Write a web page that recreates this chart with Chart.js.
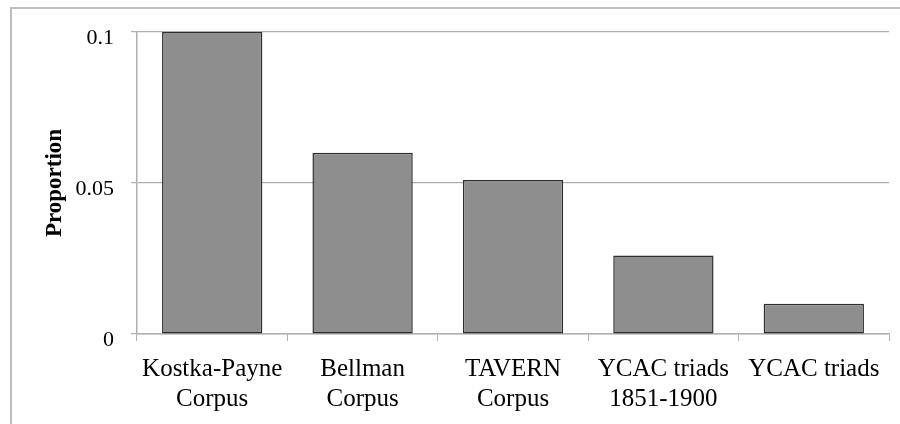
<!DOCTYPE html>
<html>
<head>
<meta charset="utf-8">
<script src="https://cdn.jsdelivr.net/npm/chart.js@4"></script>
<style>
  html, body { margin: 0; padding: 0; background: #fff; }
  #wrap { position: relative; width: 900px; height: 424px; overflow: hidden; }
  #frame { position: absolute; left: 10px; top: 7px; width: 960px; height: 500px;
           border-left: 2px solid #bdbdbd; border-top: 2px solid #bdbdbd; }
  canvas { position: absolute; left: 0; top: 0; }
</style>
</head>
<body>
<div id="wrap">
  <div id="frame"></div>
  <canvas id="chart" width="900" height="424"></canvas>
</div>
<script>
// chart data
const categories = [
  ["Kostka-Payne", "Corpus"],
  ["Bellman", "Corpus"],
  ["TAVERN", "Corpus"],
  ["YCAC triads", "1851-1900"],
  ["YCAC triads"]
];
const proportions = [0.1, 0.06, 0.051, 0.026, 0.01];
const yTicks = [0, 0.05, 0.1];
const yTitle = "Proportion";

const gridGray = "#b0b0b0";
const serif = "'Liberation Serif', 'Times New Roman', serif";

document.addEventListener("DOMContentLoaded", function () {
  const ctx = document.getElementById("chart").getContext("2d");
  new Chart(ctx, {
    type: "bar",
    data: {
      labels: categories,
      datasets: [
        {
          data: proportions,
          backgroundColor: "#8e8e8e",
          borderColor: "#2e2e2e",
          borderWidth: 1.5,
          borderSkipped: false,
          barPercentage: 0.667,
          categoryPercentage: 1,
        },
      ],
    },
    options: {
      responsive: false,
      animation: false,
      layout: { padding: { left: 0, top: 32, right: 11, bottom: 0 } },
      plugins: { legend: { display: false }, tooltip: { enabled: false } },
      scales: {
        x: {
          grid: {
            drawOnChartArea: false,
            drawTicks: true,
            tickLength: 7,
            color: gridGray,
          },
          border: { color: gridGray, width: 1.5 },
          ticks: {
            color: "#000",
            padding: 13,
            maxRotation: 0,
            autoSkip: false,
            font: { family: serif, size: 25, lineHeight: 1.2 },
          },
          afterFit: function (scale) { scale.height = 90; },
        },
        y: {
          min: 0,
          max: 0.1,
          afterBuildTicks: function (scale) {
            scale.ticks = yTicks.map((v) => ({ value: v }));
          },
          grid: { color: gridGray, lineWidth: 1.2, tickLength: 6 },
          border: { color: gridGray, width: 1.5 },
          ticks: {
            color: "#000",
            padding: 17,
            labelOffset: 6,
            font: { family: serif, size: 22 },
            callback: (v) => String(v),
          },
          title: {
            display: true,
            text: yTitle,
            color: "#000",
            padding: { top: 41, bottom: 0 },
            font: { family: serif, size: 23, weight: "bold", lineHeight: 1.2 },
          },
          afterFit: function (scale) { scale.width = 137; },
        },
      },
    },
  });
});
</script>
</body>
</html>
